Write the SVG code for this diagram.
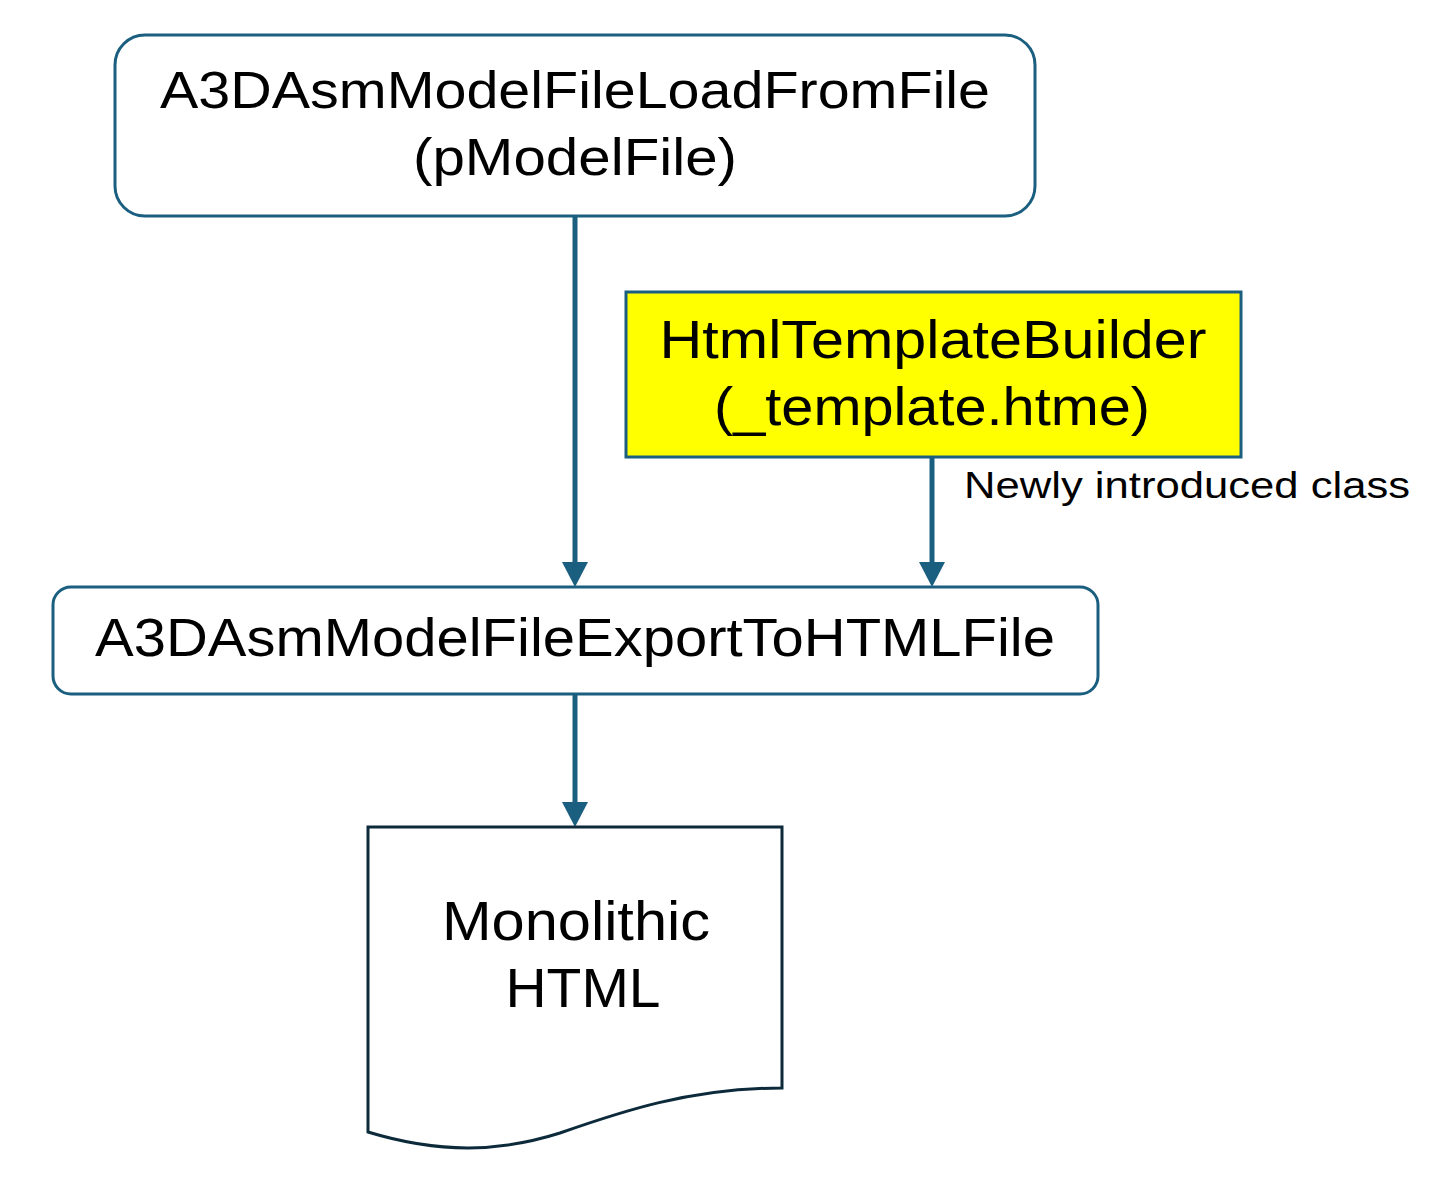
<svg xmlns="http://www.w3.org/2000/svg" width="1439" height="1187" viewBox="0 0 1439 1187">
<style>
.node{fill:#ffffff;stroke:#1b5f80;stroke-width:3}
.t{font-family:"Liberation Sans",Arial,sans-serif;fill:#000;text-anchor:middle}
.c{stroke:#1b5f80;stroke-width:5;fill:none}
.ah{fill:#1b5f80}
</style>
<rect width="1439" height="1187" fill="#ffffff"/>
<g id="connectors">
<line class="c" x1="575" y1="216" x2="575" y2="563"/>
<path class="ah" d="M562,562 L588,562 L575,587 Z"/>
<line class="c" x1="932" y1="457" x2="932" y2="563"/>
<path class="ah" d="M919,562 L945,562 L932,587 Z"/>
<line class="c" x1="575" y1="694" x2="575" y2="803"/>
<path class="ah" d="M562,802 L588,802 L575,827 Z"/>
<text x="964" y="498" style="font-family:'Liberation Sans',Arial,sans-serif;font-size:37px" textLength="446" lengthAdjust="spacingAndGlyphs">Newly introduced class</text>
</g>
<g id="load">
<rect class="node" x="115" y="35" width="920" height="181" rx="30"/>
<text class="t" x="575" y="108" font-size="52" textLength="830" lengthAdjust="spacingAndGlyphs">A3DAsmModelFileLoadFromFile</text>
<text class="t" x="575" y="175" font-size="52" textLength="324" lengthAdjust="spacingAndGlyphs">(pModelFile)</text>
</g>
<g id="builder">
<rect x="626" y="292" width="615" height="165" fill="#ffff00" stroke="#1b5f80" stroke-width="3"/>
<text class="t" x="933" y="358" font-size="54" textLength="547" lengthAdjust="spacingAndGlyphs">HtmlTemplateBuilder</text>
<text class="t" x="932" y="425" font-size="54" textLength="436" lengthAdjust="spacingAndGlyphs">(_template.htme)</text>
</g>
<g id="export">
<rect class="node" x="53" y="587" width="1045" height="107" rx="18"/>
<text class="t" x="575" y="656" font-size="54" textLength="960" lengthAdjust="spacingAndGlyphs">A3DAsmModelFileExportToHTMLFile</text>
</g>
<g id="html">
<path d="M368,827 H782 V1088 C690,1088 620,1112 560,1133 C500,1152 440,1154 368,1132 Z" fill="#ffffff" stroke="#0d2a3b" stroke-width="3"/>
<text class="t" x="576" y="940" font-size="56" textLength="268" lengthAdjust="spacingAndGlyphs">Monolithic</text>
<text class="t" x="583" y="1007" font-size="56" textLength="155" lengthAdjust="spacingAndGlyphs">HTML</text>
</g>
</svg>
